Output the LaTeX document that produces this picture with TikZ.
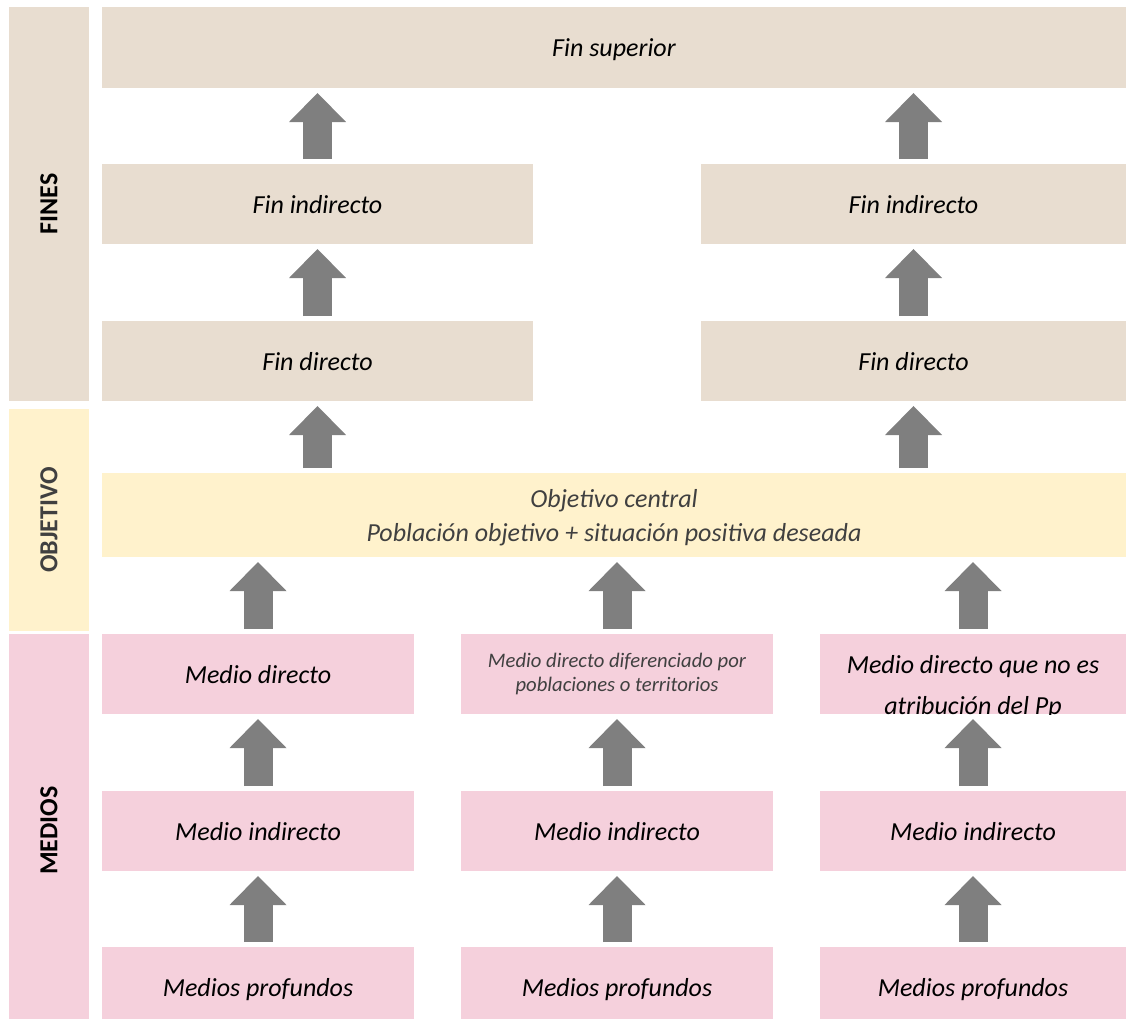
\documentclass[tikz,border=0pt]{standalone}
\usepackage{fontspec}
\setmainfont{Carlito}
\usetikzlibrary{arrows.meta}

\definecolor{finbg}{RGB}{232,221,208}
\definecolor{objbg}{RGB}{255,242,204}
\definecolor{medbg}{RGB}{245,208,220}
\definecolor{flechagris}{RGB}{127,127,127}
\definecolor{textogris}{RGB}{64,64,64}

\tikzstyle{bloque} = [
	rectangle,
	inner sep=0pt,
	outer sep=0pt,
	minimum height=60pt,
	font=\fontsize{19.5pt}{24pt}\selectfont\itshape
]
\tikzstyle{caja} = [
	bloque,
	text height=13.65pt,
	text depth=0pt
]
\tikzstyle{fin} = [caja, fill=finbg]
\tikzstyle{medio} = [caja, fill=medbg, minimum width=234pt]
\tikzstyle{barra} = [
	rectangle,
	rotate=90,
	inner sep=0pt,
	outer sep=0pt,
	minimum height=60pt,
	font=\fontsize{19.5pt}{24pt}\selectfont\bfseries
]
\tikzstyle{flecha} = [
	draw=flechagris,
	line width=21.75pt,
	-{Triangle[width=42.75pt, length=21.75pt, line width=0pt]},
	shorten <=3.75pt,
	shorten >=3.75pt
]

\begin{document}
\begin{tikzpicture}[x=0.75pt, y=-0.75pt]
        \useasboundingbox (0,0) rectangle (1126,1022);
        \clip (0,0) rectangle (1126,1018);
        % barras laterales
        \node (bfines) [barra, fill=finbg, minimum width=295.5pt] at (49,204) {FINES};
        \node (bobj) [barra, fill=objbg, minimum width=166.5pt, text=textogris] at (49,520) {OBJETIVO};
        \node (bmedios) [barra, fill=medbg, minimum width=294.75pt] at (49,830.5) {MEDIOS};
        % fines
        \node (fs) [fin, minimum width=768pt, minimum height=60.75pt] at (614,47.5) {Fin superior};
        \node (fi1) [fin, minimum width=323.25pt] at (317.5,204) {Fin indirecto};
        \node (fi2) [fin, minimum width=318.75pt] at (913.5,204) {Fin indirecto};
        \node (fd1) [fin, minimum width=323.25pt] at (317.5,361) {Fin directo};
        \node (fd2) [fin, minimum width=318.75pt] at (913.5,361) {Fin directo};
        % objetivo
        \node (obj) [bloque, fill=objbg, minimum width=768pt, minimum height=63pt] at (614,515) {};
        \node (objt)
          [bloque, minimum height=0pt, align=center,
           text=textogris, font=\fontsize{19.5pt}{25.5pt}\selectfont\itshape]
          at (614,518) {Objetivo central\\Población objetivo + situación positiva deseada};
        % medios
        \node (md1) [medio] at (258,674) {Medio directo};
        \node (md2)
          [bloque, fill=medbg, minimum width=234pt, align=center,
           text=textogris, font=\fontsize{15.5pt}{18.5pt}\selectfont\itshape]
          at (617,674) {Medio directo diferenciado por\\poblaciones o territorios};
        \node (md3) [bloque, fill=medbg, minimum width=229.5pt] at (973,674) {};
        \begin{scope}
          \clip (md3.south west) rectangle (md3.north east);
          \node (md3t) [bloque, minimum height=0pt, align=center,
            font=\fontsize{19.5pt}{30.75pt}\selectfont\itshape]
            at (973,687) {Medio directo que no es\\atribución del Pp};
        \end{scope}
        \node (mi1) [medio] at (258,831) {Medio indirecto};
        \node (mi2) [medio] at (617,831) {Medio indirecto};
        \node (mi3) [medio, minimum width=229.5pt] at (973,831) {Medio indirecto};
        \node (mp1) [medio] at (258,987) {Medios profundos};
        \node (mp2) [medio] at (617,987) {Medios profundos};
        \node (mp3) [medio, minimum width=229.5pt] at (973,987) {Medios profundos};
        % flechas
        \draw [flecha] (fi1.north) -- (fs.south -| fi1.north);
        \draw [flecha] (fi2.north) -- (fs.south -| fi2.north);
        \draw [flecha] (fd1.north) -- (fi1.south);
        \draw [flecha] (fd2.north) -- (fi2.south);
        \draw [flecha] (obj.north -| fd1.south) -- (fd1.south);
        \draw [flecha] (obj.north -| fd2.south) -- (fd2.south);
        \draw [flecha] (md1.north) -- (obj.south -| md1.north);
        \draw [flecha] (md2.north) -- (obj.south -| md2.north);
        \draw [flecha] (md3.north) -- (obj.south -| md3.north);
        \draw [flecha] (mi1.north) -- (md1.south);
        \draw [flecha] (mi2.north) -- (md2.south);
        \draw [flecha] (mi3.north) -- (md3.south);
        \draw [flecha] (mp1.north) -- (mi1.south);
        \draw [flecha] (mp2.north) -- (mi2.south);
        \draw [flecha] (mp3.north) -- (mi3.south);
      \end{tikzpicture}
\end{document}
